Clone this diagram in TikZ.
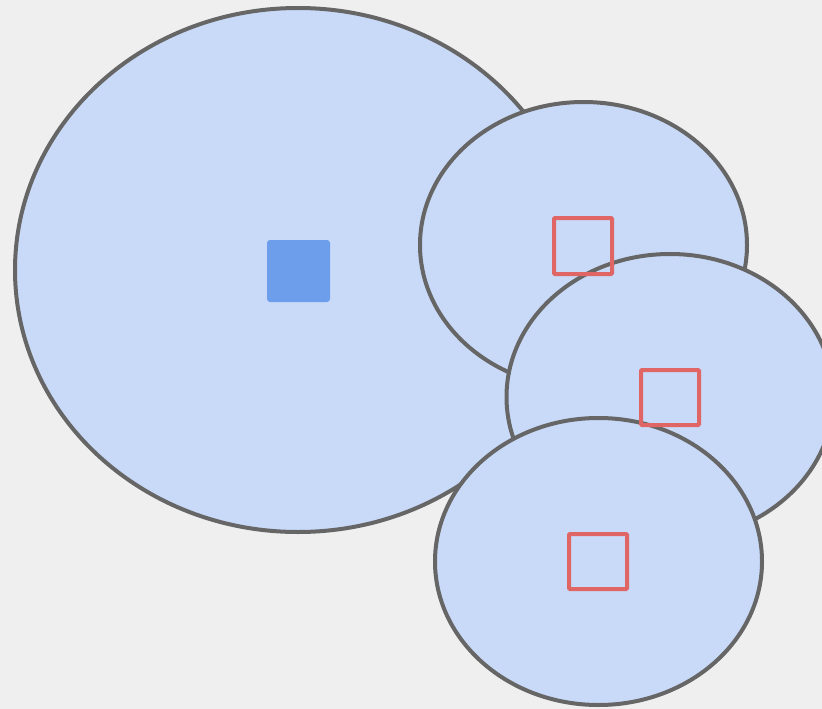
\documentclass[tikz,border=0pt]{standalone}
\usepackage{tikz}
\definecolor{bgcol}{HTML}{EFEFEF}
\definecolor{cellfill}{HTML}{C9DAF8}
\definecolor{cellline}{HTML}{666666}
\definecolor{corefill}{HTML}{6D9EEB}
\definecolor{markline}{HTML}{E06666}
\tikzset{
  cell/.style={fill=cellfill, draw=cellline, line width=4bp},
  core/.style={fill=corefill, rounded corners=3},
  marker/.style={draw=markline, line width=4bp, rounded corners=1}
}
\begin{document}
\begin{tikzpicture}[x=1bp, y=-1bp]
  % canvas
  \fill[bgcol] (0,0) rectangle (822,709);
  \useasboundingbox (0,0) rectangle (822,709);
  % large cell with its core
  \draw[cell] (298,270) ellipse [x radius=283, y radius=262];
  % smaller overlapping cells
  \draw[cell] (583.5,245) ellipse [x radius=163.5, y radius=143];
  \draw[cell] (670,397) ellipse [x radius=163.5, y radius=143];
  \draw[cell] (598.5,561.5) ellipse [x radius=163.5, y radius=143.5];
  % core and markers on top
  \fill[core] (267,240) rectangle (330,302);
  \draw[marker] (554,218) rectangle (612,274);
  \draw[marker] (641,370) rectangle (699,425);
  \draw[marker] (569,534) rectangle (627,589);
\end{tikzpicture}
\end{document}
